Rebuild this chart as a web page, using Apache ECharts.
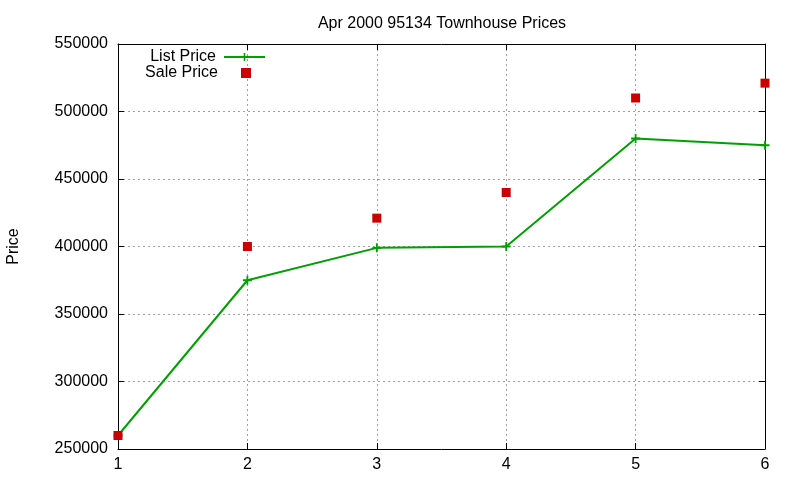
<!DOCTYPE html>
<html>
<head>
<meta charset="utf-8">
<script src="https://cdn.jsdelivr.net/npm/echarts@6/dist/echarts.min.js"></script>
<style>
	html,body{margin:0;padding:0;background:#fff;}
	#chart{width:800px;height:480px;}
</style>
</head>
<body>
<div id="chart"></div>
<script>
// month index on the x axis
var xValues = [1, 2, 3, 4, 5, 6];
var listPrice = [260000, 375000, 399000, 400000, 480000, 475000];
var salePrice = [260000, 400000, 421000, 440000, 510000, 521000];

var font = 'Liberation Sans, Arial, sans-serif';

function pairs(xs, ys){
	var out = [];
	for(var i in xs){
		out.push([xs[i], ys[i]]);
	}
	return out;
}

var tick = {show:true, inside:true, length:6, lineStyle:{color:'#000'}};
var border = {show:true, onZero:false, lineStyle:{color:'#000', width:1}};
var grid = {show:true, lineStyle:{color:'#a0a0a0', type:[2,3], width:1}};

var myChart = echarts.init(document.getElementById('chart'), null, {renderer:'canvas'});
var option = {
	animation:false,
	title:{
		text:'Apr 2000 95134 Townhouse Prices',
		left:437,
		textAlign:'center',
		top:11,
		textStyle:{fontFamily:font, fontSize:16, fontWeight:'normal', color:'#000'}
	},
	legend:[
		{
			data:['List Price'],
			right:534, top:49, padding:0,
			itemWidth:41, itemHeight:10,
			textStyle:{fontFamily:font, fontSize:16, color:'#000', padding:[0,3,0,0]},
			align:'right', selectedMode:false
		},
		{
			data:['Sale Price'],
			right:549, top:65, padding:0,
			itemWidth:10, itemHeight:10,
			textStyle:{fontFamily:font, fontSize:16, color:'#000', padding:[0,18,0,0]},
			align:'right', selectedMode:false
		}
	],
	grid:{left:118, right:35, top:44, bottom:31, containLabel:false, outerBoundsMode:'none'},
	xAxis:[
		{
			type:'value', min:1, max:6, interval:1,
			axisLine:border, axisTick:tick, splitLine:grid,
			axisLabel:{fontFamily:font, fontSize:16, color:'#000', margin:8}
		},
		{
			type:'value', position:'top', min:1, max:6, interval:1,
			axisLine:border, axisTick:tick, splitLine:{show:false},
			axisLabel:{show:false}
		}
	],
	yAxis:[
		{
			type:'value', min:250000, max:550000, interval:50000,
			name:'Price', nameLocation:'middle', nameGap:96, nameRotate:90,
			nameTextStyle:{fontFamily:font, fontSize:16, color:'#000'},
			axisLine:border, axisTick:tick, splitLine:grid,
			axisLabel:{fontFamily:font, fontSize:16, color:'#000', margin:10,
				formatter:function(v){ return String(v); }}
		},
		{
			type:'value', position:'right', min:250000, max:550000, interval:50000,
			axisLine:border, axisTick:tick, splitLine:{show:false},
			axisLabel:{show:false}
		}
	],
	series:[
		{
			name:'List Price',
			type:'line',
			data:pairs(xValues, listPrice),
			lineStyle:{color:'#00a000', width:2},
			itemStyle:{color:'#00a000'},
			symbol:'path://M4,0H6V4H10V6H6V10H4V6H0V4H4Z',
			symbolSize:9,
			z:3
		},
		{
			name:'Sale Price',
			type:'scatter',
			data:pairs(xValues, salePrice),
			itemStyle:{color:'#cc0000', opacity:1},
			symbol:'rect',
			symbolSize:9,
			z:4
		}
	]
};
myChart.setOption(option, true);
</script>
</body>
</html>
